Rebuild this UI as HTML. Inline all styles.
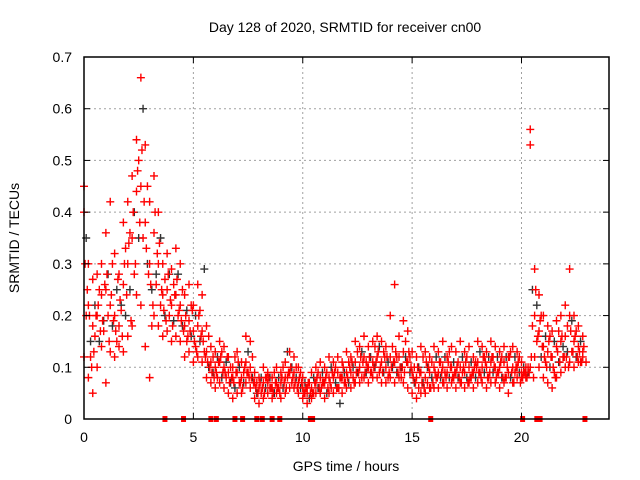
<!DOCTYPE html>
<html><head><meta charset="utf-8"><style>
body{margin:0;background:#fff}
svg{display:block;font-family:"Liberation Sans",sans-serif;font-size:14px}
</style></head><body>
<svg id="chart" width="640" height="480">
<rect width="640" height="480" fill="#fff"/>
<text x="345" y="32" text-anchor="middle">Day 128 of 2020, SRMTID for receiver cn00</text>
<text x="346" y="471" text-anchor="middle">GPS time / hours</text>
<text transform="translate(19,238) rotate(-90)" text-anchor="middle">SRMTID / TECUs</text>
<g id="grid"></g>
<g id="marks"></g>
<g id="axes"></g>
</svg>
<script>
const xTicks=[0,5,10,15,20];
const yTicks=[0,0.1,0.2,0.3,0.4,0.5,0.6,0.7];
const yTickLabels=["0","0.1","0.2","0.3","0.4","0.5","0.6","0.7"];
const step=0.2;
const seriesHigh=[0.45,0.30,0.27,0.28,0.30,0.36,0.42,0.32,0.28,0.38,0.42,0.47,0.54,0.66,0.53,0.42,0.47,0.40,0.30,0.32,0.29,0.33,0.30,0.24,0.26,0.22,0.26,0.24,0.18,0.14,0.13,0.15,0.14,0.12,0.10,0.13,0.11,0.16,0.15,0.09,0.08,0.10,0.09,0.08,0.10,0.09,0.11,0.13,0.12,0.10,0.08,0.06,0.09,0.10,0.11,0.10,0.12,0.11,0.12,0.11,0.13,0.12,0.15,0.14,0.16,0.14,0.15,0.16,0.15,0.14,0.20,0.26,0.16,0.19,0.17,0.13,0.12,0.14,0.13,0.12,0.14,0.13,0.15,0.12,0.14,0.13,0.15,0.13,0.14,0.12,0.15,0.14,0.13,0.15,0.14,0.13,0.14,0.12,0.14,0.13,0.11,0.10,0.56,0.29,0.24,0.20,0.18,0.17,0.19,0.20,0.22,0.29,0.20,0.18,0.16];
const seriesMid=[0.40,0.22,0.18,0.20,0.24,0.25,0.22,0.20,0.18,0.26,0.30,0.35,0.44,0.45,0.38,0.30,0.36,0.30,0.24,0.25,0.22,0.24,0.22,0.18,0.19,0.17,0.18,0.17,0.13,0.11,0.10,0.11,0.10,0.09,0.08,0.09,0.08,0.11,0.10,0.07,0.06,0.07,0.07,0.06,0.07,0.07,0.08,0.09,0.09,0.07,0.06,0.05,0.06,0.07,0.08,0.07,0.08,0.08,0.09,0.08,0.09,0.09,0.11,0.10,0.12,0.10,0.11,0.12,0.11,0.10,0.12,0.11,0.12,0.13,0.11,0.09,0.08,0.09,0.08,0.09,0.10,0.09,0.10,0.09,0.10,0.09,0.10,0.09,0.10,0.09,0.11,0.10,0.10,0.11,0.10,0.10,0.11,0.09,0.10,0.10,0.09,0.09,0.53,0.20,0.17,0.14,0.13,0.12,0.14,0.15,0.16,0.20,0.15,0.14,0.13];
const seriesLow=[0.12,0.08,0.05,0.10,0.14,0.07,0.13,0.12,0.14,0.13,0.16,0.18,0.24,0.22,0.14,0.08,0.20,0.18,0.16,0.17,0.15,0.16,0.15,0.12,0.13,0.11,0.12,0.11,0.08,0.07,0.06,0.07,0.06,0.05,0.04,0.05,0.05,0.07,0.06,0.04,0.03,0.04,0.05,0.04,0.05,0.04,0.05,0.06,0.06,0.05,0.04,0.03,0.04,0.05,0.05,0.04,0.05,0.05,0.06,0.05,0.06,0.06,0.07,0.07,0.08,0.07,0.08,0.08,0.07,0.07,0.08,0.07,0.08,0.07,0.06,0.05,0.04,0.05,0.05,0.06,0.06,0.06,0.07,0.06,0.07,0.06,0.07,0.06,0.07,0.06,0.07,0.07,0.06,0.07,0.07,0.06,0.07,0.05,0.07,0.08,0.08,0.08,0.10,0.12,0.10,0.08,0.07,0.06,0.08,0.09,0.10,0.11,0.10,0.11,0.12];
const seriesBlack=[0.35,0.15,0.22,0.15,0.19,0.28,0.18,0.25,0.22,0.20,0.25,0.40,0.35,0.60,0.30,0.25,0.28,0.35,0.20,0.28,0.19,0.28,0.18,0.21,0.16,0.20,0.15,0.29,0.10,0.09,0.12,0.08,0.11,0.07,0.06,0.10,0.07,0.13,0.08,0.05,0.08,0.06,0.08,0.05,0.08,0.06,0.13,0.10,0.08,0.06,0.07,0.04,0.08,0.06,0.09,0.05,0.10,0.07,0.03,0.09,0.07,0.10,0.09,0.13,0.09,0.12,0.10,0.14,0.09,0.11,0.10,0.09,0.10,0.12,0.09,0.07,0.10,0.07,0.10,0.08,0.12,0.08,0.12,0.08,0.11,0.08,0.12,0.08,0.11,0.08,0.13,0.09,0.12,0.09,0.12,0.08,0.12,0.08,0.12,0.09,0.10,0.09,0.25,0.22,0.12,0.16,0.10,0.15,0.11,0.14,0.13,0.19,0.12,0.15];
const seriesExtra=[0.20,0.12,0.16,0.25,0.17,0.20,0.30,0.15,0.21,0.33,0.36,0.28,0.50,0.35,0.45,0.18,0.26,0.22,0.27,0.20,0.26,0.20,0.25,0.15,0.22,0.14,0.21,0.13,0.16,0.12,0.08,0.13,0.08,0.10,0.12,0.07,0.09,0.09,0.12,0.07,0.05,0.08,0.06,0.09,0.06,0.10,0.08,0.07,0.10,0.09,0.05,0.07,0.05,0.09,0.07,0.09,0.06,0.10,0.08,0.07,0.11,0.08,0.13,0.08,0.11,0.09,0.14,0.09,0.13,0.08,0.14,0.12,0.08,0.15,0.12,0.10,0.06,0.12,0.07,0.11,0.08,0.11,0.09,0.13,0.08,0.11,0.09,0.12,0.08,0.11,0.09,0.12,0.08,0.12,0.09,0.12,0.08,0.13,0.09,0.12,0.09,0.10,0.18,0.15,0.20,0.11,0.16,0.09,0.17,0.12,0.18,0.13,0.17,0.11];
const seriesA=[0.30,0.20,0.13,0.22,0.19,0.28,0.24,0.17,0.23,0.30,0.34,0.40,0.48,0.52,0.33,0.26,0.40,0.34,0.21,0.28,0.18,0.27,0.19,0.20,0.17,0.15,0.20,0.15,0.11,0.09,0.09,0.12,0.09,0.07,0.07,0.11,0.06,0.09,0.08,0.06,0.07,0.05,0.08,0.05,0.06,0.08,0.06,0.10,0.07,0.08,0.05,0.07,0.05,0.08,0.06,0.08,0.07,0.09,0.06,0.10,0.08,0.11,0.09,0.12,0.09,0.12,0.10,0.13,0.09,0.12,0.10,0.13,0.10,0.09,0.13,0.08,0.10,0.07,0.11,0.06,0.09,0.11,0.07,0.11,0.08,0.10,0.07,0.11,0.08,0.10,0.09,0.12,0.08,0.12,0.08,0.11,0.08,0.12,0.07,0.11,0.08,0.08,0.12,0.25,0.19,0.12,0.15,0.10,0.13,0.16,0.12,0.17,0.16,0.13,0.14];
const seriesB=[0.25,0.10,0.20,0.17,0.26,0.15,0.19,0.27,0.16,0.24,0.19,0.30,0.38,0.42,0.28,0.22,0.32,0.25,0.19,0.23,0.24,0.21,0.17,0.16,0.21,0.13,0.16,0.12,0.10,0.08,0.11,0.09,0.12,0.08,0.09,0.07,0.10,0.08,0.07,0.05,0.06,0.08,0.06,0.07,0.05,0.07,0.09,0.08,0.06,0.07,0.06,0.05,0.07,0.06,0.07,0.06,0.09,0.06,0.08,0.07,0.10,0.07,0.09,0.11,0.10,0.09,0.11,0.10,0.12,0.09,0.11,0.09,0.10,0.11,0.10,0.07,0.09,0.06,0.10,0.07,0.08,0.09,0.08,0.10,0.09,0.08,0.10,0.07,0.09,0.10,0.08,0.11,0.09,0.10,0.09,0.08,0.10,0.09,0.10,0.07,0.09,0.09,0.08,0.16,0.14,0.10,0.12,0.08,0.11,0.12,0.10,0.13,0.12,0.11,0.11];
const gapTimes=[3.7,4.55,5.8,6.05,6.9,7.25,7.9,8.15,8.6,8.95,10.35,10.45,15.85,20.05,20.7,20.85,22.9];

const L=84,R=609,T=57,B=419,XMAX=24,YMAX=0.7;
const xs=v=>L+(R-L)*v/XMAX;
const ys=v=>B-(B-T)*v/YMAX;
const NS="http://www.w3.org/2000/svg";
function mk(tag,attrs,parent){const e=document.createElementNS(NS,tag);for(const k in attrs)e.setAttribute(k,attrs[k]);parent.appendChild(e);return e;}
const grid=document.getElementById('grid'),marks=document.getElementById('marks'),axes=document.getElementById('axes');

xTicks.forEach(t=>{
  if(t>0){const g=mk('line',{x1:xs(t),x2:xs(t),y1:T,y2:B,stroke:'#a0a0a0','stroke-dasharray':'2,3'},grid);
  
  }
  const lab=mk('text',{x:xs(t),y:442,'text-anchor':'middle'},axes);lab.textContent=t;
  
  
  mk('line',{x1:xs(t),x2:xs(t),y1:B,y2:B-6,stroke:'#000'},axes);
  mk('line',{x1:xs(t),x2:xs(t),y1:T,y2:T+6,stroke:'#000'},axes);
});
yTicks.forEach((t,i)=>{
  if(t>0&&t<YMAX){const g=mk('line',{x1:L,x2:R,y1:ys(t),y2:ys(t),stroke:'#a0a0a0','stroke-dasharray':'2,3'},grid);
  
  }
  const lab=mk('text',{x:72,y:ys(t)+5,'text-anchor':'end'},axes);lab.textContent=yTickLabels[i];
  
  
  mk('line',{x1:L,x2:L+6,y1:ys(t),y2:ys(t),stroke:'#000'},axes);
  mk('line',{x1:R,x2:R-6,y1:ys(t),y2:ys(t),stroke:'#000'},axes);
});
const frame=mk('rect',{x:L,y:T,width:R-L,height:B-T,fill:'none',stroke:'#000','stroke-width':1.5},axes);



function plus(t,v,color,name){
  const x=xs(t),y=ys(v);
  const p=mk('path',{d:`M${x-4},${y}h8M${x},${y-4}v8`,stroke:color,'stroke-width':1.4,fill:'none'},marks);
  
  
}
seriesBlack.forEach((v,i)=>plus(i*step+0.1,v,'#333','point-black'));
seriesExtra.forEach((v,i)=>plus(i*step+0.1,v,'#f00','point-red'));
seriesA.forEach((v,i)=>plus(i*step+0.05,v,'#f00','point-red'));
seriesB.forEach((v,i)=>plus(i*step+0.15,v,'#f00','point-red'));
seriesHigh.forEach((v,i)=>plus(i*step,v,'#f00','point-red'));
seriesMid.forEach((v,i)=>plus(i*step,v,'#f00','point-red'));
seriesLow.forEach((v,i)=>plus(i*step,v,'#f00','point-red'));
gapTimes.forEach(t=>{
  const r=mk('rect',{x:xs(t)-2.5,y:B-3,width:5,height:6,fill:'#f00'},marks);
  
  
});
</script>
</body></html>
